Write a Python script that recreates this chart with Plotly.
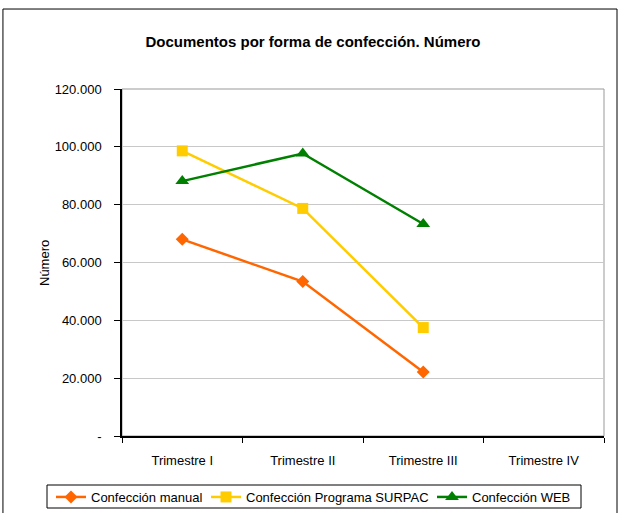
import plotly.graph_objects as go

# Quarterly document counts by preparation method
trimestres = ["Trimestre I", "Trimestre II", "Trimestre III", "Trimestre IV"]
manual = [68000, 53400, 22100, None]
surpac = [98600, 78700, 37500, None]
web = [88150, 97700, 73300, None]

y_ticks = [0, 20000, 40000, 60000, 80000, 100000, 120000]
y_tick_labels = ["-", "20.000", "40.000", "60.000", "80.000", "100.000", "120.000"]

FONT = "Liberation Sans, Arial, sans-serif"
W, H = 619, 513

fig = go.Figure()
series = [
    ("Confección manual", manual, "#FF6600", "diamond", 10, "legend", 51),
    ("Confección Programa SURPAC", surpac, "#FFCC00", "square", 11, "legend2", 206),
    ("Confección WEB", web, "#008000", "triangle-up", 12, "legend3", 432),
]
legends = {}
for name, vals, color, symbol, size, leg, left_px in series:
    fig.add_trace(go.Scatter(
        x=trimestres, y=vals, name=name, mode="lines+markers",
        line=dict(color=color, width=2.5),
        marker=dict(symbol=symbol, size=size, color=color),
        legend=leg,
    ))
    # one single-entry legend per series, laid out side by side in one row
    legends[leg] = dict(
        orientation="h", xref="container", yref="container",
        x=left_px / W, xanchor="left", y=1 - 482 / H, yanchor="top",
        bgcolor="rgba(0,0,0,0)", borderwidth=0, font=dict(size=13),
        itemwidth=30,
    )

# plot-area frame (grey top/right edges), legend box and outer chart border
fig.add_shape(type="rect", xref="paper", yref="paper", x0=0, x1=1, y0=0, y1=1,
              line=dict(color="#999999", width=1), layer="below")
fig.add_shape(type="rect", xref="paper", yref="paper",
              x0=(47 - 122) / 482, x1=(581 - 122) / 482,
              y0=(436 - 508) / 347, y1=(436 - 485) / 347,
              line=dict(color="black", width=1))
fig.add_shape(type="rect", xref="paper", yref="paper",
              x0=-0.247, x1=1.027, y0=-0.25, y1=1.2305,
              line=dict(color="black", width=1))

fig.add_annotation(text="Número", xref="paper", yref="paper", x=-0.1805, y=0.5,
                   textangle=-90, showarrow=False,
                   font=dict(family=FONT, size=13, color="black"))

fig.update_layout(
    width=W, height=H,
    margin=dict(l=122, r=15, t=89, b=77),
    paper_bgcolor="white", plot_bgcolor="white",
    font=dict(family=FONT, size=13, color="black"),
    title=dict(text="<b>Documentos por forma de confección. Número</b>",
               x=313 / W, xanchor="center", y=1 - 42 / H, yanchor="middle",
               font=dict(family=FONT, size=15, color="black")),
    showlegend=True,
    **legends,
)
fig.update_xaxes(
    type="category", categoryorder="array", categoryarray=trimestres,
    range=[-0.5, 3.5], showline=True, linecolor="black", linewidth=1.5,
    ticks="outside", tickson="boundaries", ticklen=5, tickcolor="black",
    showgrid=False, ticklabelstandoff=12,
)
fig.update_yaxes(
    range=[0, 120000], tickvals=y_ticks, ticktext=y_tick_labels,
    showline=True, linecolor="black", linewidth=1.5,
    ticks="outside", ticklen=6, tickcolor="black",
    showgrid=True, gridcolor="#C8C8C8", gridwidth=1, zeroline=False,
    ticklabelstandoff=10,
)

fig.write_html("out.html")
